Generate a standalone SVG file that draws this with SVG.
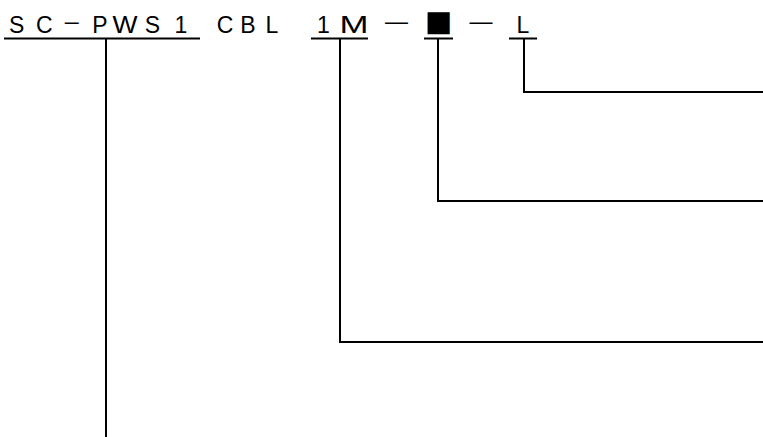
<svg xmlns="http://www.w3.org/2000/svg" width="763" height="437" viewBox="0 0 763 437">
<style>
  .t { font-family: "Liberation Sans", Arial, sans-serif; font-size: 23px; fill: #000; text-anchor: middle; }
  .sq { font-family: "DejaVu Sans", sans-serif; font-size: 29px; fill: #000; text-anchor: middle; }
  .ln { stroke: #000; stroke-width: 2; fill: none; }
</style>
<rect width="763" height="437" fill="#fff"/>
<g id="seg-series">
  <text class="t" x="16.7 44.2" y="32.5">SC</text>
  <text class="t" x="71.7" y="29" textLength="14" lengthAdjust="spacingAndGlyphs">–</text>
  <text class="t" x="100" y="32.5">P</text>
  <text class="t" x="125" y="32.5" textLength="25" lengthAdjust="spacingAndGlyphs">W</text>
  <text class="t" x="152.5 181" y="32.5">S1</text>
  <line class="ln" x1="4" y1="38.5" x2="200" y2="38.5"/>
</g>
<g id="seg-cbl">
  <text class="t" x="225 248 272" y="32.5">CBL</text>
</g>
<g id="seg-length">
  <text class="t" x="323.5" y="32.5">1</text>
  <text class="t" x="354" y="32.5" textLength="29" lengthAdjust="spacingAndGlyphs">M</text>
  <line class="ln" x1="311" y1="38.5" x2="368" y2="38.5"/>
</g>
<g id="seg-dash1">
  <text class="t" x="396.5" y="29">—</text>
</g>
<g id="seg-color">
  <text class="sq" x="438.5" y="31">■</text>
  <line class="ln" x1="424" y1="38.5" x2="453" y2="38.5"/>
</g>
<g id="seg-dash2">
  <text class="t" x="481" y="29">—</text>
</g>
<g id="seg-l">
  <text class="t" x="523" y="32.5">L</text>
  <line class="ln" x1="509" y1="38.5" x2="537" y2="38.5"/>
</g>
<g id="connectors">
  <polyline class="ln" points="106,38.5 106,437"/>
  <polyline class="ln" points="340,38.5 340,342 763,342"/>
  <polyline class="ln" points="438,38.5 438,201 763,201"/>
  <polyline class="ln" points="524,38.5 524,92 763,92"/>
</g>
</svg>
